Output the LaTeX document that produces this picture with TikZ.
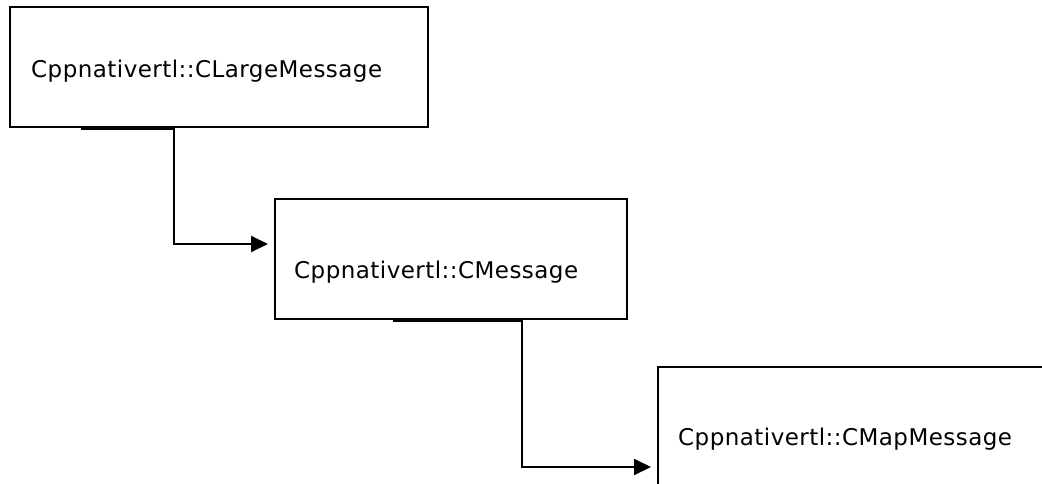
\documentclass[tikz,border=0pt]{standalone}
\usepackage{fontspec}
\setmainfont{DejaVu Sans}[LetterSpace=2]
\usetikzlibrary{arrows.meta,calc}
\tikzset{
  classbox/.style={draw=black, line width=2pt, rectangle, minimum height=120pt, inner sep=0pt, anchor=north west},
  classlabel/.style={anchor=base west, inner sep=0pt, font=\fontsize{23}{28}\selectfont},
  arr/.style={draw=black, line width=2pt, -{Triangle[length=17pt,width=16pt]}, shorten >=6pt},
  edge/.style={draw=black, line width=3.5pt}
}
\begin{document}
\begin{tikzpicture}[x=1pt,y=-1pt]
\useasboundingbox (0,0) rectangle (1042,483);
\clip (0,0) rectangle (1042,483);
\node[classbox, minimum width=418pt] (b1) at (9,6) {};
\node[classbox, minimum width=352pt] (b2) at (274,198) {};
\node[classbox, minimum width=400pt] (b3) at (657,366) {};
\node[classlabel] (t1) at (31,77) {Cppnativertl::CLargeMessage};
\node[classlabel] (t2) at (294,278) {Cppnativertl::CMessage};
\node[classlabel] (t3) at (678,445) {Cppnativertl::CMapMessage};
\draw[edge] ($(b1.south west)+(72,0)$) -- ($(b1.south west)+(165,0)$);
\draw[edge] ($(b2.south west)+(119,0)$) -- ($(b2.south west)+(248,0)$);
\draw[arr] ($(b1.south west)+(165,0)$) |- ([yshift=15pt]b2.west);
\draw[arr] ($(b2.south west)+(248,0)$) |- ([yshift=-40pt]b3.west);
\end{tikzpicture}
\end{document}
